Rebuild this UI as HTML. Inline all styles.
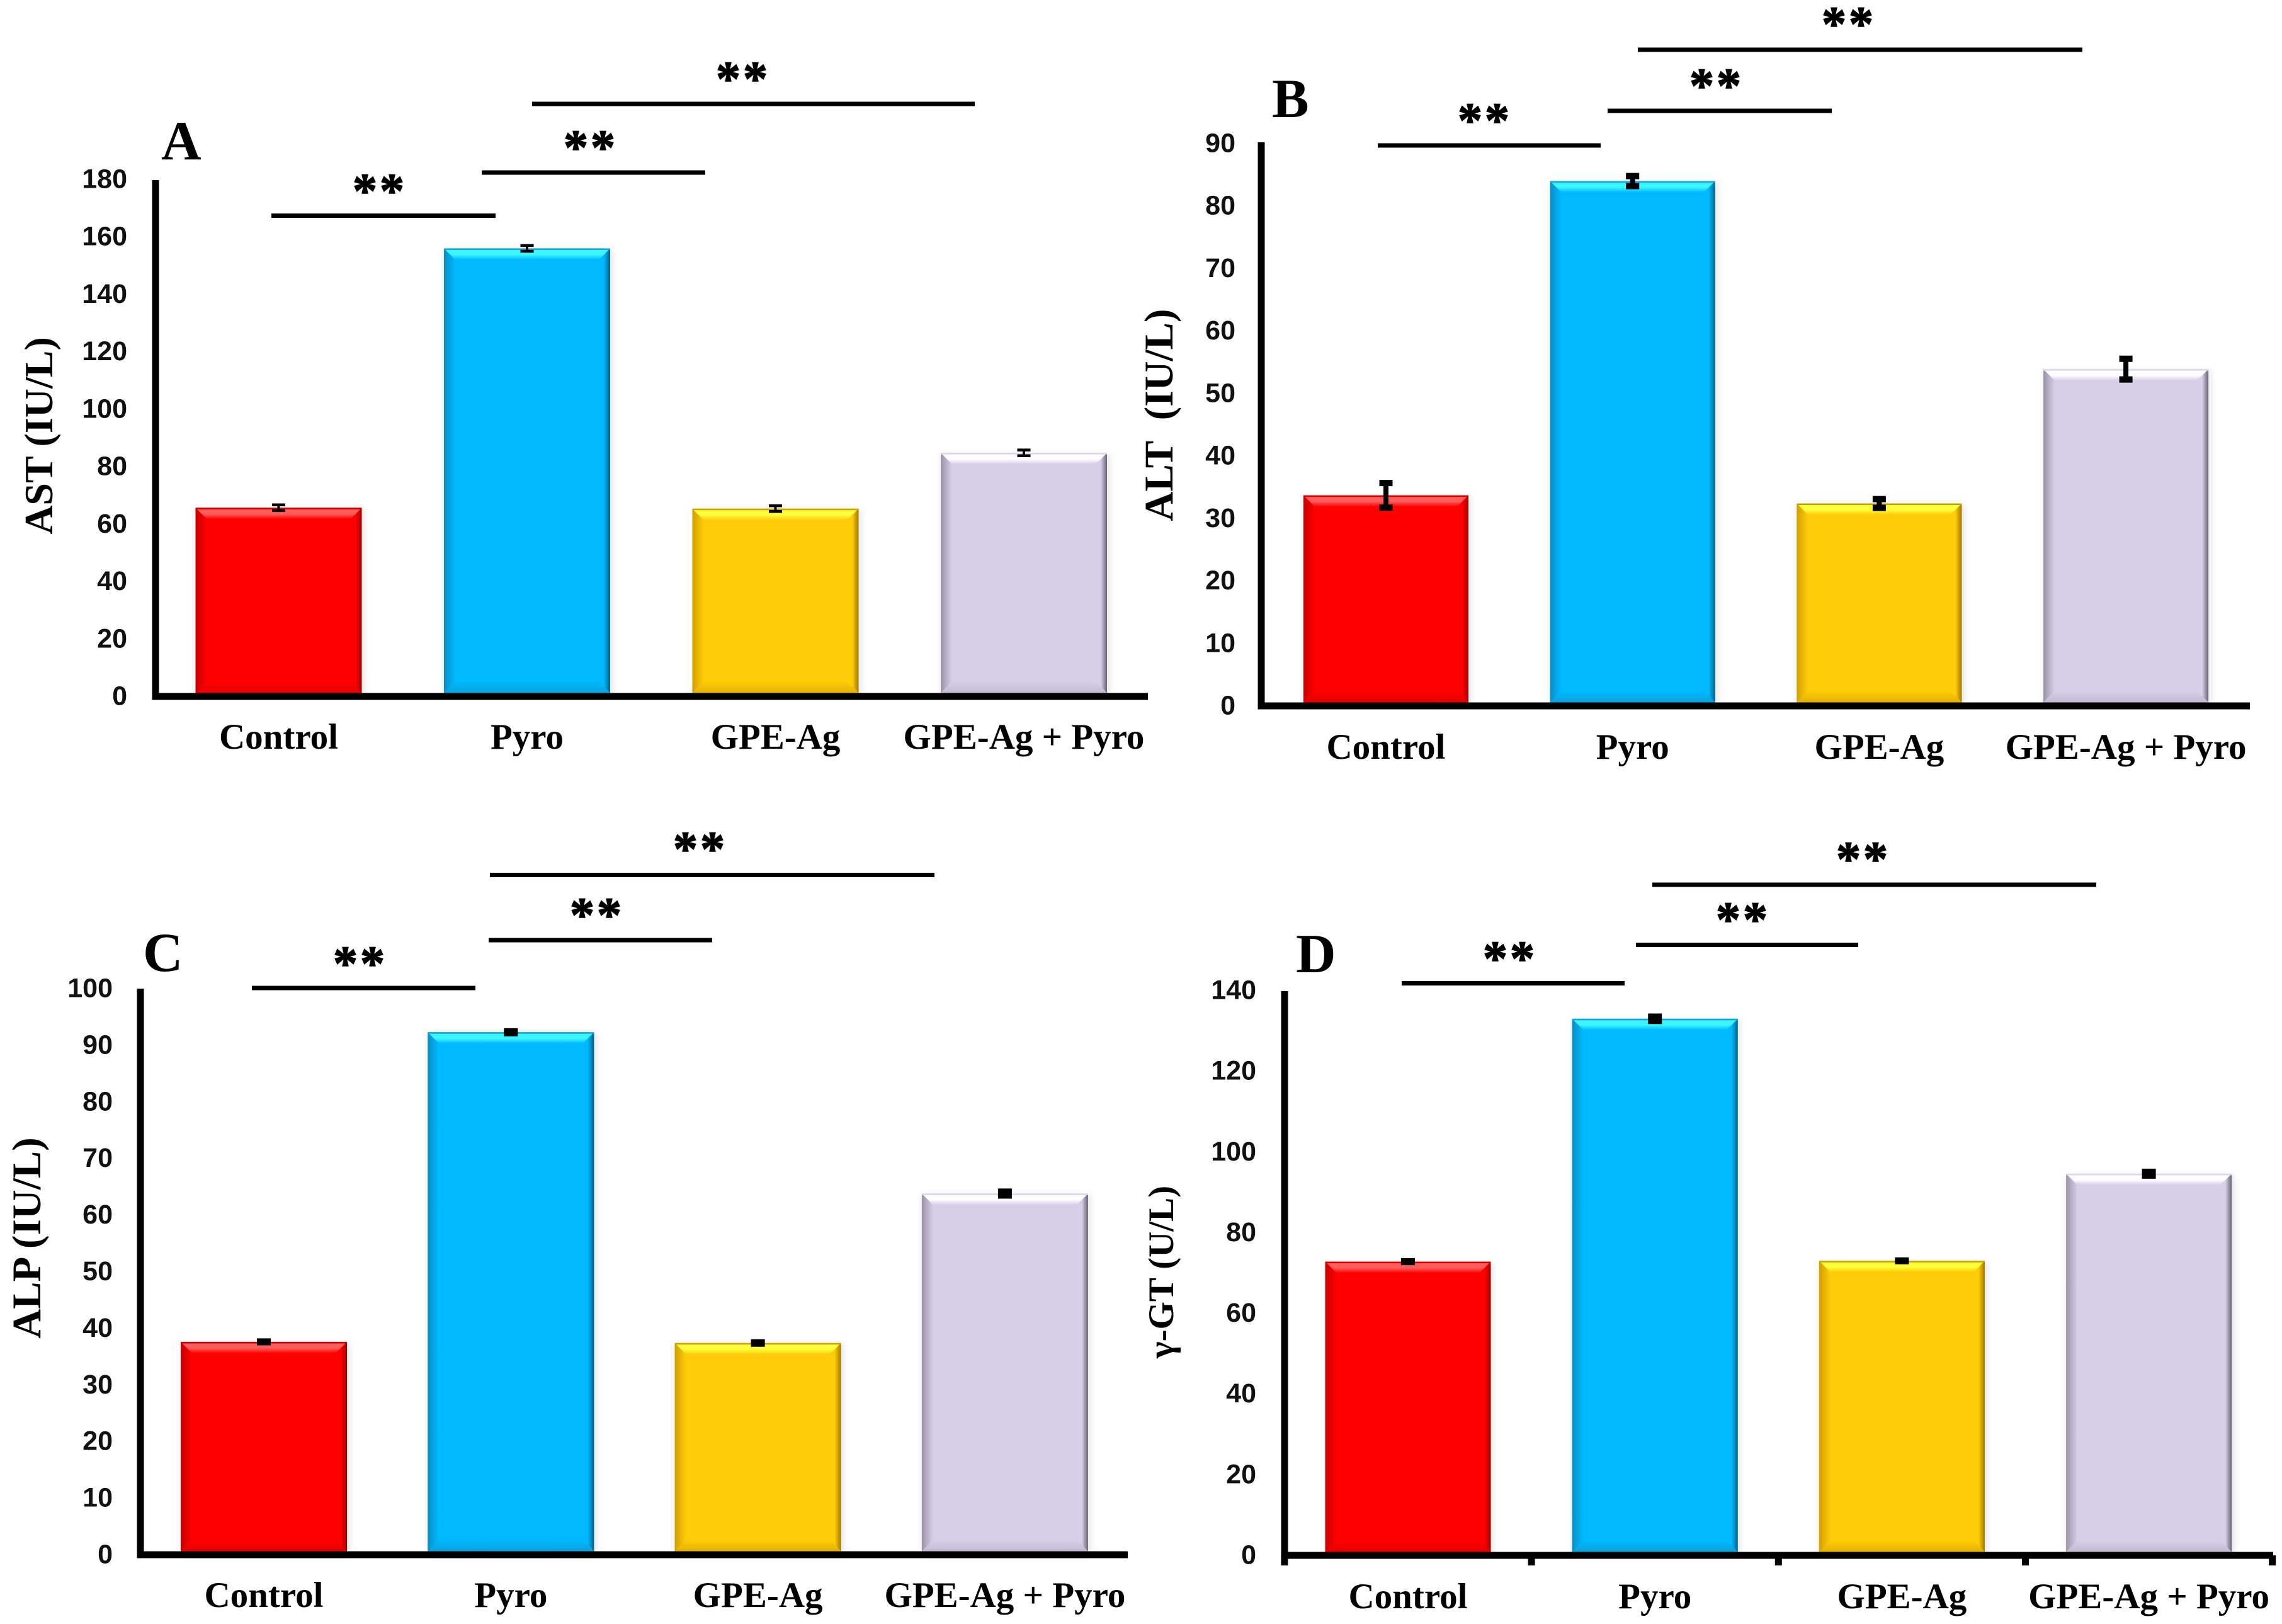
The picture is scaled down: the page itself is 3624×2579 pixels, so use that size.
<!DOCTYPE html>
<html lang="en">
<head>
<meta charset="utf-8">
<title>Serum liver enzyme bar charts</title>
<style>
html,body{margin:0;padding:0;background:#fff;}
body{width:3624px;height:2579px;overflow:hidden;}
svg{display:block;}
.serif{font-family:"Liberation Serif",serif;font-weight:bold;fill:#000;}
.tick{font-family:"Liberation Sans",sans-serif;font-weight:bold;font-size:43px;fill:#111;}
</style>
</head>
<body>
<svg id="figure" xmlns="http://www.w3.org/2000/svg" width="3624" height="2579" viewBox="0 0 3624 2579">
  <defs id="gradients">
    <filter id="soft" x="-10%" y="-10%" width="120%" height="120%"><feGaussianBlur stdDeviation="5"/></filter>
  </defs>
  <rect x="0" y="0" width="3624" height="2579" fill="#ffffff"/>
  <g id="plots"></g>
  <text class="serif" x="256" y="253" font-size="88">A</text>
  <text class="serif" x="2020" y="186" font-size="88">B</text>
  <text class="serif" x="227" y="1542" font-size="88">C</text>
  <text class="serif" x="2058" y="1544" font-size="88">D</text>
  <text class="serif" font-size="64" text-anchor="middle" transform="translate(83 692) rotate(-90)">AST (IU/L)</text>
  <text class="serif" font-size="65" text-anchor="middle" xml:space="preserve" transform="translate(1862 659) rotate(-90)">ALT&#160;&#160;(IU/L)</text>
  <text class="serif" font-size="65" text-anchor="middle" transform="translate(64 1966) rotate(-90)">ALP (IU/L)</text>
  <text class="serif" font-size="57" text-anchor="middle" transform="translate(1863 2020) rotate(-90)">γ-GT (U/L)</text>
</svg>
<script>
// ---- chart data ----
const categories = ["Control", "Pyro", "GPE-Ag", "GPE-Ag + Pyro"];
const astValues = [65.7, 156, 65.4, 84.8];
const astErrors = [1, 1, 1, 1];
const altValues = [33.7, 84, 32.4, 53.9];
const altErrors = [1.97, 0.8, 0.7, 1.66];
const alpValues = [37.6, 92.3, 37.4, 63.8];
const alpErrors = [0.12, 0.22, 0.17, 0.39];
const ggtValues = [72.8, 133, 73, 94.6];
const ggtErrors = [0.16, 0.6, 0.16, 0.55];
const astTicks = [0, 20, 40, 60, 80, 100, 120, 140, 160, 180];
const altTicks = [0, 10, 20, 30, 40, 50, 60, 70, 80, 90];
const alpTicks = [0, 10, 20, 30, 40, 50, 60, 70, 80, 90, 100];
const ggtTicks = [0, 20, 40, 60, 80, 100, 120, 140];
const significanceMark = "**";

// ---- styling of the four treatment groups ----
const palette = [
  {fill:"#ff0000", top:"#ff5c5c", left:"#c40000", right:"#a00000", bottom:"#e40000", line:"#d40000"},
  {fill:"#00b9ff", top:"#3cf6ff", left:"#0a8fc4", right:"#005f88", bottom:"#0aa2dc", line:"#15a5dc"},
  {fill:"#ffcc09", top:"#ffff3c", left:"#d0a000", right:"#a07800", bottom:"#e2b000", line:"#c9a000"},
  {fill:"#d7cee8", top:"#fffdff", left:"#9a94a8", right:"#686474", bottom:"#c2b9d2", line:"#ddd5ea"}
];

// ---- panel layout (pixels on the page) ----
const panels = [
  {id:"ast", values:astValues, errors:astErrors, ticks:astTicks,
   axisX:247, axisTop:286, axisEnd:1823, y0:1106, yMaxPx:285, tickX:202,
   firstCenter:442.5, step:394.5, barWidth:264, labelY:1189, capThick:4.5, stem:4, capWidth:21, xTicks:false,
   brackets:[
     {x1:431, x2:787, y:342.5, sx:601, sy:296},
     {x1:765, x2:1120, y:274, sx:936, sy:227},
     {x1:845, x2:1548, y:165, sx:1178, sy:118}]},
  {id:"alt", values:altValues, errors:altErrors, ticks:altTicks,
   axisX:2003, axisTop:226, axisEnd:3573, y0:1121, yMaxPx:228, tickX:1962,
   firstCenter:2201, step:391.7, barWidth:262, labelY:1205, capThick:10, stem:8, capWidth:21, xTicks:false,
   brackets:[
     {x1:2188, x2:2542, y:231, sx:2356, sy:184},
     {x1:2553, x2:2909, y:176, sx:2724, sy:129},
     {x1:2601, x2:3307, y:79, sx:2934, sy:31}]},
  {id:"alp", values:alpValues, errors:alpErrors, ticks:alpTicks,
   axisX:223, axisTop:1570, axisEnd:1791, y0:2469, yMaxPx:1570, tickX:179,
   firstCenter:419, step:392.3, barWidth:264, labelY:2552, capThick:9, stem:8, capWidth:22, xTicks:false,
   brackets:[
     {x1:400, x2:755, y:1569, sx:570, sy:1523},
     {x1:776, x2:1131, y:1493, sx:946, sy:1446},
     {x1:778, x2:1484, y:1389.5, sx:1110, sy:1341}]},
  {id:"ggt", values:ggtValues, errors:ggtErrors, ticks:ggtTicks,
   axisX:2040, axisTop:1574, axisEnd:3610, y0:2470, yMaxPx:1573, tickX:1995,
   firstCenter:2236, step:392.2, barWidth:263, labelY:2554, capThick:9, stem:8, capWidth:22, xTicks:true,
   brackets:[
     {x1:2226, x2:2580, y:1561.5, sx:2396, sy:1515},
     {x1:2598, x2:2951, y:1500.5, sx:2766, sy:1453},
     {x1:2624, x2:3329, y:1405, sx:2957, sy:1357}]}
];

const SVG_NS = "http://www.w3.org/2000/svg";
const plotsRoot = document.getElementById("plots");
const defsRoot = document.getElementById("gradients");
const AXIS_THICK = 11;
const BEVEL = 18;

function shape(parent, tag, attrs) {
  const node = document.createElementNS(SVG_NS, tag);
  for (const k in attrs) node.setAttribute(k, attrs[k]);
  parent.appendChild(node);
  return node;
}
function gradient(id, x2, y2, stops) {
  const g = shape(defsRoot, "linearGradient", {id:id, x1:0, y1:0, x2:x2, y2:y2});
  stops.forEach(function (s) { shape(g, "stop", {offset:s[0], "stop-color":s[1]}); });
}
palette.forEach(function (c, i) {
  gradient("top" + i, 0, 1, [[0, c.top], [0.55, c.top], [1, c.fill]]);
  gradient("left" + i, 1, 0, [[0, c.left], [1, c.fill]]);
  gradient("right" + i, 1, 0, [[0, c.fill], [0.45, c.fill], [1, c.right]]);
  gradient("bottom" + i, 0, 1, [[0, c.fill], [1, c.bottom]]);
});

function pts(list) { return list.map(function (p) { return p[0] + "," + p[1]; }).join(" "); }

panels.forEach(function (panel) {
  const yMax = panel.ticks[panel.ticks.length - 1];
  const yScale = function (v) { return panel.y0 - v * (panel.y0 - panel.yMaxPx) / yMax; };
  const xBand = function (i) { return panel.firstCenter + i * panel.step; };
  const barBase = panel.y0 - AXIS_THICK / 2;

  const group = shape(plotsRoot, "g", {});
  
  

  panel.values.forEach(function (value, i) {
    const cx = xBand(i);
    const x0 = cx - panel.barWidth / 2;
    const x1 = cx + panel.barWidth / 2;
    const yt = yScale(value);
    const c = palette[i];
    const barGroup = shape(group, "g", {});
    
    

    shape(barGroup, "rect", {x:x0 + 1, y:yt + 2, width:panel.barWidth + 3, height:barBase - yt, fill:"#000", "fill-opacity":0.1, filter:"url(#soft)"});
    shape(barGroup, "rect", {x:x0, y:yt, width:panel.barWidth, height:barBase - yt, fill:c.fill});
    const b = BEVEL;
    shape(barGroup, "polygon", {points:pts([[x0, yt], [x0 + b, yt + b], [x0 + b, barBase - b], [x0, barBase]]), fill:"url(#left" + i + ")"});
    shape(barGroup, "polygon", {points:pts([[x1, yt], [x1 - b, yt + b], [x1 - b, barBase - b], [x1, barBase]]), fill:"url(#right" + i + ")"});
    shape(barGroup, "polygon", {points:pts([[x0, barBase], [x0 + b, barBase - b], [x1 - b, barBase - b], [x1, barBase]]), fill:"url(#bottom" + i + ")"});
    shape(barGroup, "polygon", {points:pts([[x0, yt], [x1, yt], [x1 - b, yt + b], [x0 + b, yt + b]]), fill:"url(#top" + i + ")"});
    shape(barGroup, "rect", {x:x0, y:yt, width:panel.barWidth, height:2.5, fill:c.line});
  });

  panel.values.forEach(function (value, i) {
    const cx = xBand(i);
    const hi = yScale(value + panel.errors[i]);
    const lo = yScale(value - panel.errors[i]);
    const err = shape(group, "g", {stroke:"#000", fill:"none"});
    
    
    shape(err, "line", {x1:cx, x2:cx, y1:hi, y2:lo, "stroke-width":panel.stem});
    shape(err, "line", {x1:cx - panel.capWidth / 2, x2:cx + panel.capWidth / 2, y1:hi, y2:hi, "stroke-width":panel.capThick});
    shape(err, "line", {x1:cx - panel.capWidth / 2, x2:cx + panel.capWidth / 2, y1:lo, y2:lo, "stroke-width":panel.capThick});
  });

  const yAxis = shape(group, "rect", {x:panel.axisX - AXIS_THICK / 2, y:panel.axisTop, width:AXIS_THICK, height:panel.y0 - panel.axisTop + AXIS_THICK / 2, fill:"#000"});
  
  
  const xAxis = shape(group, "rect", {x:panel.axisX - AXIS_THICK / 2, y:panel.y0 - AXIS_THICK / 2, width:panel.axisEnd - panel.axisX + AXIS_THICK / 2, height:AXIS_THICK, fill:"#000"});
  
  

  if (panel.xTicks) {
    categories.concat([""]).forEach(function (_, i) {
      const tx = xBand(i) - panel.step / 2;
      const mark = shape(group, "rect", {x:tx - 5.5, y:panel.y0, width:11, height:16, fill:"#000"});
      
      
    });
  }

  panel.ticks.forEach(function (t) {
    const label = shape(group, "text", {class:"tick", x:panel.tickX, y:yScale(t) + 13.5, "text-anchor":"end"});
    
    
    label.textContent = String(t);
  });

  categories.forEach(function (name, i) {
    const label = shape(group, "text", {class:"serif", x:xBand(i), y:panel.labelY, "text-anchor":"middle", "font-size":57});
    
    
    label.textContent = name;
  });

  panel.brackets.forEach(function (br) {
    const line = shape(group, "rect", {x:br.x1, y:br.y - 3.5, width:br.x2 - br.x1, height:7, fill:"#000"});
    
    
    const stars = shape(group, "text", {class:"serif", x:br.sx + 2, y:br.sy + 33, "text-anchor":"middle", "font-size":78, "letter-spacing":4, stroke:"#000", "stroke-width":1.5});
    
    
    stars.textContent = significanceMark;
  });
});
</script>
</body>
</html>
